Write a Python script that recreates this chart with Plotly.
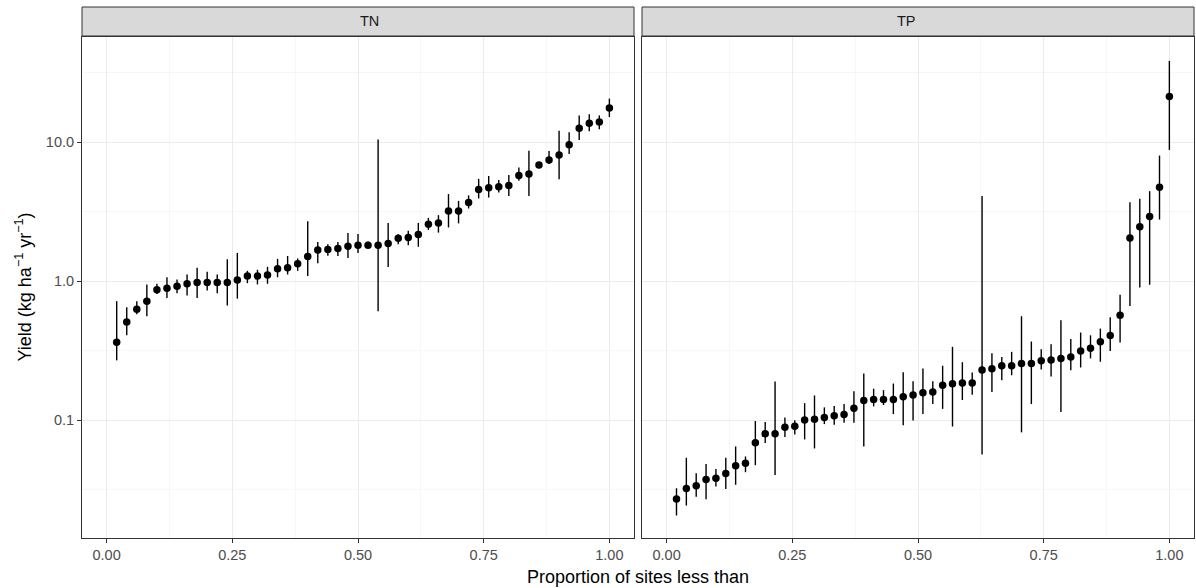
import plotly.graph_objects as go
from plotly.subplots import make_subplots

# ---- data ----
panels = ["TN", "TP"]

tn_y = [0.365, 0.51, 0.63, 0.72, 0.87, 0.89, 0.92, 0.96, 0.98, 0.98, 0.98, 0.98, 1.02, 1.09, 1.09, 1.11,
        1.23, 1.25, 1.34, 1.51, 1.68, 1.69, 1.72, 1.79, 1.82, 1.82, 1.82, 1.87, 2.04, 2.07, 2.17, 2.57, 2.63,
        3.21, 3.21, 3.69, 4.58, 4.71, 4.79, 4.89, 5.77, 5.90, 6.85, 7.45, 8.09, 9.6, 12.6, 13.7, 14.0, 17.6]
tn_lo = [0.27, 0.41, 0.58, 0.56, 0.81, 0.76, 0.82, 0.79, 0.76, 0.86, 0.82, 0.67, 0.75, 0.97, 0.95, 0.96,
         1.07, 1.12, 1.19, 1.09, 1.35, 1.53, 1.52, 1.47, 1.60, 1.74, 0.61, 1.27, 1.85, 1.82, 1.77, 2.34, 2.24,
         2.44, 2.61, 3.34, 3.94, 4.01, 4.35, 4.10, 5.28, 4.10, 6.56, 6.97, 5.41, 8.22, 10.4, 12.0, 12.4, 15.2]
tn_hi = [0.72, 0.65, 0.72, 0.95, 0.96, 1.07, 1.03, 1.12, 1.25, 1.17, 1.12, 1.44, 1.60, 1.19, 1.21, 1.27,
         1.45, 1.52, 1.46, 2.70, 1.92, 1.85, 1.92, 2.23, 2.19, 1.93, 10.45, 2.63, 2.18, 2.31, 2.63, 2.86, 2.99,
         4.24, 3.79, 4.15, 5.46, 5.71, 5.35, 5.81, 6.59, 8.69, 7.16, 8.64, 12.1, 11.8, 15.6, 15.9, 15.6, 20.6]

tp_y = [0.0272, 0.0323, 0.0338, 0.0376, 0.0384, 0.0415, 0.0471, 0.0492, 0.0690, 0.0802, 0.0802, 0.0891,
        0.0906, 0.1005, 0.102, 0.105,
        0.108, 0.110, 0.122, 0.139, 0.141, 0.141, 0.141, 0.148, 0.152, 0.158, 0.160, 0.179, 0.183, 0.186,
        0.186, 0.230, 0.235,
        0.247, 0.247, 0.256, 0.256, 0.268, 0.272, 0.279, 0.286, 0.316, 0.330, 0.367, 0.407, 0.570, 2.05,
        2.47, 2.93, 4.75, 21.3]
tp_lo = [0.0207, 0.0244, 0.0282, 0.0271, 0.0334, 0.0321, 0.0344, 0.0424, 0.0476, 0.0687, 0.0404, 0.0759,
         0.0792, 0.0729, 0.0628, 0.094,
         0.0929, 0.096, 0.096, 0.0649, 0.126, 0.129, 0.111, 0.0923, 0.0998, 0.111, 0.131, 0.121, 0.0903,
         0.140, 0.153, 0.0568, 0.160,
         0.194, 0.211, 0.082, 0.131, 0.232, 0.207, 0.115, 0.229, 0.240, 0.279, 0.264, 0.315, 0.363, 0.665,
         0.903, 0.944, 2.78, 8.81]
tp_hi = [0.0325, 0.0538, 0.0417, 0.0485, 0.0446, 0.0538, 0.0649, 0.0550, 0.0989, 0.0973, 0.190, 0.105,
         0.100, 0.133, 0.151, 0.124,
         0.127, 0.131, 0.162, 0.217, 0.169, 0.165, 0.184, 0.222, 0.191, 0.236, 0.191, 0.247, 0.338, 0.262,
         0.221, 4.10, 0.304,
         0.286, 0.311, 0.561, 0.369, 0.325, 0.353, 0.525, 0.384, 0.428, 0.409, 0.457, 0.552, 0.802, 3.71,
         3.92, 4.45, 8.02, 38.5]

x_ticks = [0.0, 0.25, 0.5, 0.75, 1.0]
x_tick_text = ["0.00", "0.25", "0.50", "0.75", "1.00"]
y_ticks = [0.1, 1.0, 10.0]
y_tick_text = ["0.1", "1.0", "10.0"]

tn_x = [(i + 1) / len(tn_y) for i in range(len(tn_y))]
tp_x = [(i + 1) / len(tp_y) for i in range(len(tp_y))]

# ---- figure ----
W, H = 1196, 588
ML, MR, MT, MB = 82, 2, 37, 50
plot_w = W - ML - MR
plot_h = H - MT - MB
gap = 8
pw = (plot_w - gap) / 2

fig = make_subplots(rows=1, cols=2, shared_yaxes=True, horizontal_spacing=gap / plot_w)

FONT = "Liberation Sans, Arial, sans-serif"
TICK_SIZE = 14.5
TITLE_SIZE = 18

for col, (xs, ys, lo, hi) in enumerate([(tn_x, tn_y, tn_lo, tn_hi), (tp_x, tp_y, tp_lo, tp_hi)], start=1):
    fig.add_trace(go.Scatter(
        x=xs, y=ys, mode="markers",
        marker=dict(color="black", size=7.5),
        error_y=dict(type="data", symmetric=False,
                     array=[h - v for h, v in zip(hi, ys)],
                     arrayminus=[v - l for v, l in zip(ys, lo)],
                     color="black", thickness=1.4, width=0),
        showlegend=False, hoverinfo="skip"), row=1, col=col)

d1 = [0, pw / plot_w]
d2 = [(pw + gap) / plot_w, 1]

xax = dict(range=[-0.049, 1.049], tickvals=x_ticks, ticktext=x_tick_text, automargin=False,
           showgrid=True, gridcolor="#EBEBEB", gridwidth=1,
           minor=dict(tickvals=[0.125, 0.375, 0.625, 0.875], showgrid=True, gridcolor="#F2F2F2", gridwidth=0.6,
                      ticklen=0),
           ticks="outside", ticklen=4, tickcolor="#333333", tickwidth=1,
           showline=True, mirror=True, linecolor="#333333", linewidth=1,
           tickfont=dict(family=FONT, size=TICK_SIZE, color="#4D4D4D"), zeroline=False)
fig.update_layout(xaxis=dict(xax, domain=d1), xaxis2=dict(xax, domain=d2))

yax_common = dict(type="log", range=[-1.846, 1.757], tickvals=y_ticks, ticktext=y_tick_text, automargin=False,
                  showgrid=True, gridcolor="#EBEBEB", gridwidth=1,
                  minor=dict(tickvals=[10 ** -1.5, 10 ** -0.5, 10 ** 0.5, 10 ** 1.5], showgrid=True,
                             gridcolor="#F2F2F2", gridwidth=0.6, ticklen=0),
                  showline=True, mirror=True, linecolor="#333333", linewidth=1,
                  tickfont=dict(family=FONT, size=TICK_SIZE, color="#4D4D4D"), zeroline=False)
fig.update_layout(
    yaxis=dict(yax_common, ticks="outside", ticklen=4, tickcolor="#333333", tickwidth=1),
    yaxis2=dict(yax_common, ticks="", showticklabels=False, matches="y"),
)

# strips
strip_h = 29 / plot_h
for i, (name, dom) in enumerate(zip(panels, [d1, d2])):
    fig.add_shape(type="rect", xref="paper", yref="paper", x0=dom[0], x1=dom[1], y0=1 + 1 / plot_h,
                  y1=1 + 1 / plot_h + strip_h, fillcolor="#D9D9D9", line=dict(color="#333333", width=1),
                  layer="above")
    fig.add_annotation(xref="paper", yref="paper", x=(dom[0] + dom[1]) / 2, y=1 + 1 / plot_h + strip_h / 2,
                       text=name, showarrow=False, yanchor="middle",
                       font=dict(family=FONT, size=TICK_SIZE, color="#1A1A1A"))

# axis titles
fig.add_annotation(xref="paper", yref="paper", x=0.5, y=-39 / plot_h,
                   text="Proportion of sites less than", showarrow=False, yanchor="middle",
                   font=dict(family=FONT, size=TITLE_SIZE, color="black"))
fig.add_annotation(xref="paper", yref="paper", x=-(ML - 24) / plot_w, xanchor="center", y=0.5,
                   text="Yield (kg ha<sup>\u22121</sup> yr<sup>\u22121</sup>)", textangle=-90, showarrow=False,
                   font=dict(family=FONT, size=TITLE_SIZE, color="black"))

fig.update_layout(width=W, height=H, margin=dict(l=ML, r=MR, t=MT, b=MB, autoexpand=False),
                  plot_bgcolor="white", paper_bgcolor="white", font=dict(family=FONT))

fig.write_html("out.html", config={"displayModeBar": False, "staticPlot": True},
               post_script="document.body.style.margin='0';document.body.style.overflow='hidden';"
                           "document.documentElement.style.overflow='hidden';")
